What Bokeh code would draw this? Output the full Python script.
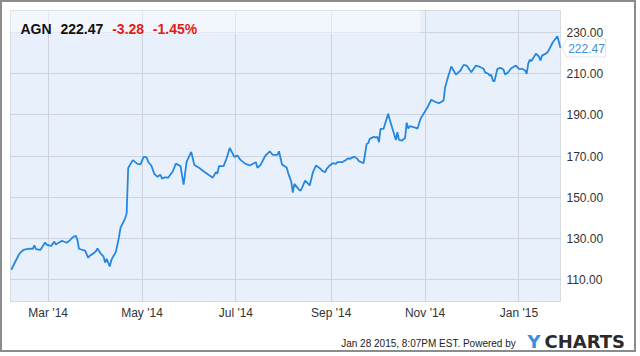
import pandas as pd
from bokeh.plotting import figure
from bokeh.models import (Label, BoxAnnotation, PolyAnnotation, FixedTicker, DatetimeTickFormatter,
                          NumeralTickFormatter, Range1d, ColumnDataSource)
from bokeh.embed import file_html
from bokeh.resources import INLINE

# ---------------- data ----------------
ticker_symbol = "AGN"
last_price = "222.47"
change_abs = "-3.28"
change_pct = "-1.45%"
footer_text = "Jan 28 2015, 8:07PM EST.  Powered by"
logo_head = "Y"
logo_tail = "CHARTS"

dates = ["2014-02-05","2014-02-08","2014-02-10","2014-02-11","2014-02-13","2014-02-15","2014-02-17","2014-02-19","2014-02-20","2014-02-21","2014-02-24","2014-02-27","2014-02-28",
         "2014-03-02","2014-03-03","2014-03-05","2014-03-06","2014-03-08","2014-03-10","2014-03-11","2014-03-13","2014-03-15","2014-03-17","2014-03-19","2014-03-20","2014-03-21","2014-03-23","2014-03-25","2014-03-27","2014-03-28","2014-03-30",
         "2014-04-01","2014-04-02","2014-04-04","2014-04-06","2014-04-07","2014-04-08","2014-04-10","2014-04-11","2014-04-12","2014-04-14","2014-04-16","2014-04-17","2014-04-20","2014-04-21",
         "2014-04-22","2014-04-25","2014-04-28","2014-04-30",
         "2014-05-02","2014-05-04","2014-05-05","2014-05-07","2014-05-09","2014-05-11","2014-05-13","2014-05-14","2014-05-16","2014-05-18","2014-05-21","2014-05-23","2014-05-26","2014-05-28","2014-05-30",
         "2014-06-02","2014-06-04","2014-06-07","2014-06-10","2014-06-13","2014-06-16","2014-06-18","2014-06-19","2014-06-20","2014-06-23","2014-06-25","2014-06-27","2014-06-30",
         "2014-07-02","2014-07-04","2014-07-07","2014-07-10","2014-07-13","2014-07-14","2014-07-15","2014-07-17","2014-07-20","2014-07-23","2014-07-25","2014-07-28","2014-07-29","2014-07-31",
         "2014-08-03","2014-08-04","2014-08-06","2014-08-07","2014-08-08","2014-08-11","2014-08-12","2014-08-13","2014-08-15","2014-08-18","2014-08-20","2014-08-22","2014-08-25","2014-08-26","2014-08-28","2014-08-29","2014-08-31",
         "2014-09-02","2014-09-04","2014-09-05","2014-09-08","2014-09-10","2014-09-12","2014-09-13","2014-09-16","2014-09-18","2014-09-19","2014-09-22",
         "2014-09-24","2014-09-25","2014-09-26","2014-09-29","2014-09-30","2014-10-01","2014-10-02","2014-10-03","2014-10-05","2014-10-08","2014-10-09","2014-10-11","2014-10-13","2014-10-14","2014-10-15","2014-10-17","2014-10-19","2014-10-20","2014-10-21","2014-10-22","2014-10-26","2014-10-27","2014-10-29","2014-10-31","2014-11-02",
         "2014-11-05","2014-11-08","2014-11-10","2014-11-13","2014-11-14","2014-11-16","2014-11-18","2014-11-21","2014-11-24","2014-11-26","2014-11-28",
         "2014-12-01","2014-12-04","2014-12-07","2014-12-09","2014-12-10","2014-12-12","2014-12-13","2014-12-14","2014-12-15","2014-12-16","2014-12-18","2014-12-20","2014-12-22","2014-12-23","2014-12-25","2014-12-27","2014-12-30",
         "2015-01-01","2015-01-03","2015-01-05","2015-01-06","2015-01-07","2015-01-08","2015-01-09","2015-01-12","2015-01-14","2015-01-15","2015-01-16","2015-01-19","2015-01-20","2015-01-23","2015-01-26","2015-01-28"]

prices = [114.9,119.4,122.3,123.3,124.6,124.9,125.2,125.0,126.8,124.9,124.6,128.1,127.1,
          126.6,126.5,128.6,127.1,128.1,128.9,128.6,128.0,129.1,130.7,131.4,129.4,125.1,124.6,124.2,120.7,121.7,122.6,
          123.9,125.2,122.9,121.3,118.4,120.2,116.5,119.4,121.0,123.6,130.7,135.2,139.8,142.2,
          164.3,168.1,166.3,166.0,
          169.7,169.4,167.2,165.5,161.4,160.0,161.0,159.1,159.8,159.5,162.7,166.4,165.2,156.2,167.4,
          172.1,165.7,164.4,162.7,161.1,159.6,162.3,161.6,165.2,165.2,169.0,174.0,169.7,
          170.3,168.2,166.4,165.5,166.7,167.1,164.4,165.7,170.1,172.4,170.6,170.6,172.4,166.0,
          164.5,161.8,157.6,152.3,156.6,153.8,153.2,154.6,158.2,155.8,162.0,165.5,163.9,163.0,162.2,163.9,165.5,
          166.6,166.3,167.1,167.1,167.9,169.0,168.7,169.8,168.7,167.6,166.6,
          176.0,176.3,178.4,179.5,178.9,179.5,176.8,183.3,183.3,190.6,187.8,182.8,177.9,181.6,177.9,177.6,178.9,186.3,183.4,184.6,183.8,183.3,188.1,190.6,193.0,
          197.4,196.2,195.7,197.0,203.5,208.7,213.5,209.6,211.6,214.3,214.0,
          210.7,214.0,213.2,212.4,210.7,210.0,209.1,209.5,206.7,206.2,212.4,212.9,211.9,209.6,210.7,212.7,214.0,
          212.4,212.4,211.6,210.0,214.8,216.8,216.1,219.7,218.4,216.4,218.8,220.0,220.9,225.3,228.2,222.47]

month_ticks = ["2014-03-01", "2014-05-01", "2014-07-01", "2014-09-01", "2014-11-01", "2015-01-01"]
price_ticks = [110, 130, 150, 170, 190, 210, 230]

# ---------------- layout helpers ----------------
def ms(s):
    return pd.Timestamp(s).value / 1e6

# plot area (data limits) and where it sits on the 640x356 page
X0 = ms("2014-02-04 12:00")
X1 = ms("2015-01-28 00:00")
Y0, Y1 = 99.5, 240.7
FL, FR, FT, FB = 10, 560, 10, 301
BORDER = 2  # css border around the canvas

def xd(px):
    return X0 + (px - FL) / (FR - FL) * (X1 - X0)

def yd(py):
    return Y1 - (py - FT) / (FB - FT) * (Y1 - Y0)

FONT = "Liberation Sans"

src = ColumnDataSource(dict(x=[ms(d) for d in dates], y=prices))

# the frame covers the whole canvas so that every text can be placed freely
p = figure(width=640 - 2 * BORDER, height=356 - 2 * BORDER, x_axis_type="datetime",
           y_axis_location="right",
           x_range=Range1d(xd(BORDER), xd(640 - BORDER)),
           y_range=Range1d(yd(356 - BORDER), yd(BORDER)),
           output_backend="svg", toolbar_location=None,
           min_border_left=0, min_border_top=0, min_border_right=0, min_border_bottom=0,
           background_fill_color="white", border_fill_color="white",
           outline_line_color=None)
p.styles = {"border": "%dpx solid #8c8c8c" % BORDER}

xt = FixedTicker(ticks=[ms(d) for d in month_ticks])
yt = FixedTicker(ticks=price_ticks)
p.xaxis.ticker = xt
p.xgrid.ticker = xt
p.yaxis.ticker = yt
p.ygrid.ticker = yt
fmt = "%b '%y"
p.xaxis.formatter = DatetimeTickFormatter(months=fmt, days=fmt, years=fmt, hours=fmt,
                                          minutes=fmt, seconds=fmt, milliseconds=fmt,
                                          microseconds=fmt, minsec=fmt, hourmin=fmt)
p.yaxis.formatter = NumeralTickFormatter(format="0.00")
p.xaxis.fixed_location = Y0
p.yaxis.fixed_location = X1

for ax in (p.xaxis[0], p.yaxis[0]):
    ax.axis_line_color = None
    ax.major_tick_line_color = None
    ax.minor_tick_line_color = None
    ax.major_tick_out = 0
    ax.major_tick_in = 0
    ax.minor_tick_out = 0
    ax.major_label_text_font = FONT
    ax.major_label_text_font_size = "12px"
    ax.major_label_text_color = "#333333"
p.xaxis.major_label_standoff = 4
p.yaxis.major_label_standoff = 6

for g in (p.xgrid[0], p.ygrid[0]):
    g.grid_line_color = "#cdd4e0"
    g.grid_line_width = 1
try:
    p.xgrid[0].cross_bounds = (Y0, Y1)
    p.ygrid[0].cross_bounds = (X0, X1)
except Exception:
    pass

# plot area background and outline
p.add_layout(BoxAnnotation(left=X0, right=X1, bottom=Y0, top=Y1, fill_color="#e8f0fb",
                           fill_alpha=1.0, line_color=None, level="image"))
p.add_layout(BoxAnnotation(left=X0, right=X1, bottom=Y0, top=Y1, fill_alpha=0,
                           line_color="#9a9a9a", line_width=1))

# header band
p.add_layout(BoxAnnotation(left=X0, right=xd(420), bottom=yd(33), top=Y1,
                           fill_color="white", fill_alpha=0.45, line_color=None))

p.line("x", "y", source=src, line_color="#2588e0", line_width=1.8)

def lab(px, py, text, size, color, bold=False, baseline="alphabetic", align="left", font=FONT):
    p.add_layout(Label(x=xd(px), y=yd(py), text=text, text_font=font,
                       text_font_size=size, text_color=color,
                       text_font_style="bold" if bold else "normal",
                       text_baseline=baseline, text_align=align))

# header texts
lab(20, 28.3, ticker_symbol, "14px", "#111111", bold=True)
lab(60, 28.3, last_price, "14px", "#111111", bold=True)
lab(111.7, 28.3, change_abs, "14px", "#e41b17", bold=True)
lab(152.3, 28.3, change_pct, "14px", "#e41b17", bold=True)

# price tag (pointed box) with the last price
tag_px = [561.5, 566, 605, 605, 566]
tag_py = [47.5, 38.5, 38.5, 56.5, 56.5]
p.add_layout(PolyAnnotation(xs=[xd(v) for v in tag_px], ys=[yd(v) for v in tag_py],
                            fill_color="white", fill_alpha=1.0,
                            line_color="#a6a6a6", line_width=1))
p.add_layout(Label(x=xd(586), y=prices[-1], text=last_price, text_font=FONT,
                   text_font_size="12px", text_color="#3f8fd8", text_baseline="middle",
                   text_align="center"))

# footer
lab(340.7, 343.0, footer_text, "10px", "#222222", baseline="middle")
lab(527.0, 341.0, logo_head, "18px", "#3a8fd9", bold=True, baseline="middle", font="DejaVu Sans")
lab(544.0, 341.0, logo_tail, "18px", "#2b2b2b", bold=True, baseline="middle", font="DejaVu Sans")

open("out.html", "w").write(file_html(p, INLINE))
